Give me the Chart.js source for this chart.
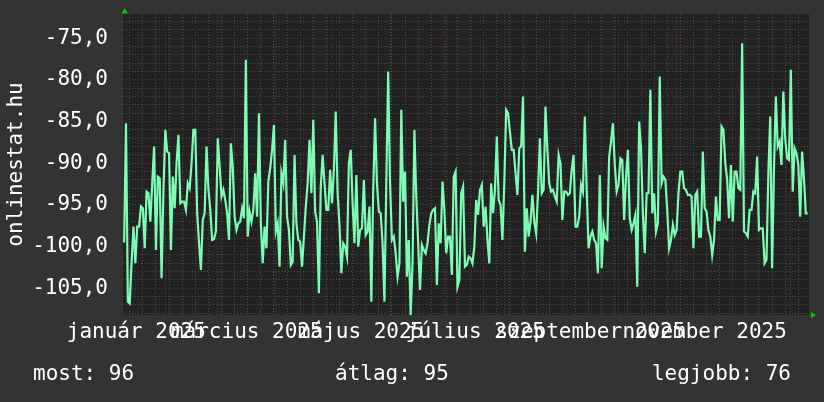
<!DOCTYPE html>
<html>
<head>
<meta charset="utf-8">
<script src="https://cdn.jsdelivr.net/npm/chart.js@4/dist/chart.umd.min.js"></script>
<style>
  html, body { margin: 0; padding: 0; background: #333333; }
  #wrap { width: 824px; height: 402px; }
</style>
</head>
<body>
<div id="wrap"><canvas id="rrd" width="824" height="402"></canvas></div>
<script>
// day index counted from 1 jan 2025 (0) -- first sample is 10 jan
const firstDay = 9;

// daily values
const values = [
  -99.5, -85.2, -106.6, -106.8, -101.8, -97.6, -102, -97.6, -97.6, -95.2,
  -95.4, -100.2, -93.4, -93.6, -97, -92.4, -88, -100.4, -91.6, -91.8,
  -103.8, -93.2, -86, -88.6, -88.8, -100.4, -91.6, -95.4, -90, -86.6,
  -94.8, -94.6, -94.6, -95.6, -92.4, -93, -90, -86, -86, -96,
  -99.6, -102.8, -96.8, -96, -88, -93, -95.6, -99.2, -99.1, -98.2,
  -87, -90.4, -94, -93.2, -94.4, -96, -99.2, -87.6, -90.4, -96.4,
  -98, -97.2, -97, -95.4, -96.6, -77.6, -98.8, -95.8, -97, -95.6,
  -91.2, -96.4, -84, -97.2, -102, -97.6, -100.2, -92.2, -90.6, -88.4,
  -85.4, -98.2, -97.2, -102.4, -91.2, -92.4, -87.2, -96.4, -98, -102.2,
  -101.8, -89, -97.2, -99.2, -99.4, -102.4, -98.8, -95.2, -92.4, -87.2,
  -93.6, -84.8, -95.8, -97, -105.6, -92.8, -89, -92.4, -95.6, -95.6,
  -90.8, -94.8, -90.8, -83.8, -93.6, -97.4, -103.2, -99.6, -100, -101.2,
  -90, -88.4, -94.8, -99.6, -91.4, -100, -98, -97.8, -92, -98.6,
  -98.2, -95.2, -106.6, -93.4, -84.6, -92.4, -95.8, -96, -99.6, -106.6,
  -92.4, -79, -92.4, -99.2, -98.8, -100.8, -103.6, -102, -83.6, -94.6,
  -91, -103.6, -99.2, -108.2, -102, -86, -94, -99.6, -105.2, -99.8,
  -100.4, -100.8, -99.6, -97.4, -96, -95.6, -95.4, -104.6, -97.2, -99.6,
  -92.2, -95.6, -100.8, -98.8, -98.8, -103.4, -91.6, -91, -104.8, -104,
  -93.6, -92.8, -102.4, -102.2, -101.2, -101.4, -102, -100, -94.4, -96.2,
  -93.2, -92.6, -97.6, -95.2, -99.2, -102, -92.4, -96, -93.2, -86.8,
  -94.4, -95, -99.2, -92.4, -83.6, -84, -86.2, -88.4, -88.4, -91.2,
  -93.8, -88.2, -88, -82, -100.6, -95.4, -98.8, -97, -93.8, -97,
  -98.4, -93.6, -87, -93.6, -93.2, -83.2, -88.4, -92.4, -93.4, -93.2,
  -94, -94.6, -89, -90, -96.8, -93.4, -93.4, -93.8, -93.6, -90.8,
  -89, -97.6, -97.6, -96.4, -92.6, -93.4, -84.4, -93.2, -100.2, -98.8,
  -98.2, -99.2, -99.6, -103.2, -91.4, -102.6, -97.6, -99, -99.2, -89.2,
  -87.4, -85.2, -90.2, -93.4, -92.6, -89.4, -89.6, -96.8, -91.6, -88.4,
  -96.6, -98, -97.2, -96.2, -104.8, -85, -88.2, -96, -100.8, -93.6,
  -93.6, -81.2, -96, -93.6, -98.2, -97.2, -79.6, -92.4, -91.6, -92,
  -95.6, -100.2, -99.2, -97.4, -98.6, -98, -93.6, -91, -91, -93,
  -93.2, -93.8, -93.8, -94, -100.2, -93.8, -93.4, -98.8, -98.8, -88.6,
  -95.4, -95.8, -98, -98.8, -101, -99.2, -94, -96.8, -96.8, -85.6,
  -86, -90, -92, -96.6, -90.2, -97, -91, -91, -93, -93.2,
  -75.6, -98.2, -98.4, -98.8, -95.6, -95.6, -93.4, -93.6, -89.2, -98,
  -97.8, -97.8, -102, -101.6, -91.2, -84.4, -102.6, -90.6, -82, -88,
  -87.4, -90.2, -81.4, -87, -89.4, -89.6, -78.8, -93.4, -88.2, -88.8,
  -90.2, -96.4, -88.6, -91.8, -96, -96
];

// first day of each month (2025 + jan 2026)
const monthStarts = [0, 31, 59, 90, 120, 151, 181, 212, 243, 273, 304, 334, 365];
// label positions (middle of every second month) and texts
const labelDays = [15.5, 74.5, 135.5, 196.5, 258, 319];
const labelTexts = ['január 2025', 'március 2025', 'május 2025', 'július 2025', 'szeptember 2025', 'november 2025'];
const yMajor = [-105, -100, -95, -90, -85, -80, -75];

const statLabels = ['most: 96', 'átlag: 95', 'legjobb: 76'];
const axisTitle = 'onlinestat.hu';

const FONT = "'DejaVu Sans Mono', monospace";
const GRAY = '#4c4c4c';
const RED = '#663030';
const xMin = 8.4, xMax = 374.7;

// weekly (monday) grid + month grid
let gridDays = [];
for (let d = 5; d <= xMax; d += 7) if (d >= xMin) gridDays.push(d);
monthStarts.forEach(m => { if (m >= xMin && !gridDays.includes(m)) gridDays.push(m); });
gridDays.sort((a, b) => a - b);

let yGrid = [];
for (let v = -108; v <= -73; v++) yGrid.push(v);

const rrdLook = {
  id: 'rrdLook',
  beforeDraw(chart) {
    const ctx = chart.ctx, a = chart.chartArea;
    ctx.save();
    ctx.fillStyle = '#333333';
    ctx.fillRect(0, 0, chart.width, chart.height);
    ctx.fillStyle = '#222222';
    ctx.fillRect(a.left, a.top, a.right - a.left, a.bottom - a.top);
    ctx.restore();
  },
  afterDraw(chart) {
    const ctx = chart.ctx, a = chart.chartArea;
    ctx.save();
    // arrows
    ctx.fillStyle = '#00cc00';
    ctx.beginPath();
    ctx.moveTo(a.left - 1.5, a.top - 0.5);
    ctx.lineTo(a.left + 5, a.top - 0.5);
    ctx.lineTo(a.left + 1.8, a.top - 6);
    ctx.closePath();
    ctx.fill();
    ctx.beginPath();
    ctx.moveTo(a.right + 2, a.bottom - 3);
    ctx.lineTo(a.right + 2, a.bottom + 3);
    ctx.lineTo(a.right + 7, a.bottom);
    ctx.closePath();
    ctx.fill();
    // summary line
    ctx.fillStyle = '#ffffff';
    ctx.font = '21px ' + FONT;
    ctx.textBaseline = 'alphabetic';
    ctx.textAlign = 'left';
    ctx.fillText(statLabels[0], 33, 380);
    ctx.fillText(statLabels[1], 335, 380);
    ctx.textAlign = 'right';
    ctx.fillText(statLabels[2], 791, 380);
    ctx.restore();
  }
};

new Chart(document.getElementById('rrd'), {
  type: 'line',
  data: {
    datasets: [{
      data: values.map((v, i) => ({ x: firstDay + i, y: v })),
      borderColor: '#7dfcb4',
      borderWidth: 2.2,
      pointRadius: 0,
      tension: 0,
      fill: false,
      xAxisID: 'x',
      yAxisID: 'y'
    }]
  },
  options: {
    responsive: false,
    animation: false,
    devicePixelRatio: 1,
    layout: { padding: { left: 0, right: 15, top: 14, bottom: 0 } },
    plugins: { legend: { display: false }, tooltip: { enabled: false } },
    scales: {
      x: {
        type: 'linear', min: xMin, max: xMax, position: 'bottom',
        afterBuildTicks: s => { s.ticks = gridDays.map(v => ({ value: v })); },
        ticks: { display: false },
        grid: { color: c => (c.tick && monthStarts.includes(c.tick.value)) ? RED : GRAY, lineWidth: 1, drawTicks: false },
        border: { display: false, dash: [1, 2] },
        afterFit: s => { s.height = 0; s.paddingLeft = 0; s.paddingRight = 0; }
      },
      xl: {
        type: 'linear', min: xMin, max: xMax, position: 'bottom',
        afterBuildTicks: s => { s.ticks = labelDays.map(v => ({ value: v })); },
        ticks: {
          autoSkip: false, maxRotation: 0, minRotation: 0, color: '#ffffff', padding: 5,
          font: { family: FONT, size: 21 },
          callback: (v, i) => labelTexts[i]
        },
        grid: { display: false, drawTicks: false },
        border: { display: false },
        afterFit: s => { s.height = 87; s.paddingLeft = 0; s.paddingRight = 0; }
      },
      y: {
        min: -108.2, max: -72.1,
        afterBuildTicks: s => { s.ticks = yGrid.map(v => ({ value: v })); },
        ticks: {
          autoSkip: false, color: '#ffffff', padding: 15,
          font: { family: FONT, size: 21 },
          callback: v => yMajor.includes(v) ? v.toFixed(1).replace('.', ',') : ''
        },
        grid: { color: c => (c.tick && yMajor.includes(c.tick.value)) ? RED : GRAY, lineWidth: 1, drawTicks: false },
        border: { display: false, dash: [1, 2] },
        title: { display: true, text: axisTitle, color: '#ffffff', font: { family: FONT, size: 21 }, padding: { top: 4, bottom: 0 } },
        afterFit: s => { s.width = 123; s.paddingTop = 0; s.paddingBottom = 0; }
      }
    }
  },
  plugins: [rrdLook]
});
</script>
</body>
</html>
